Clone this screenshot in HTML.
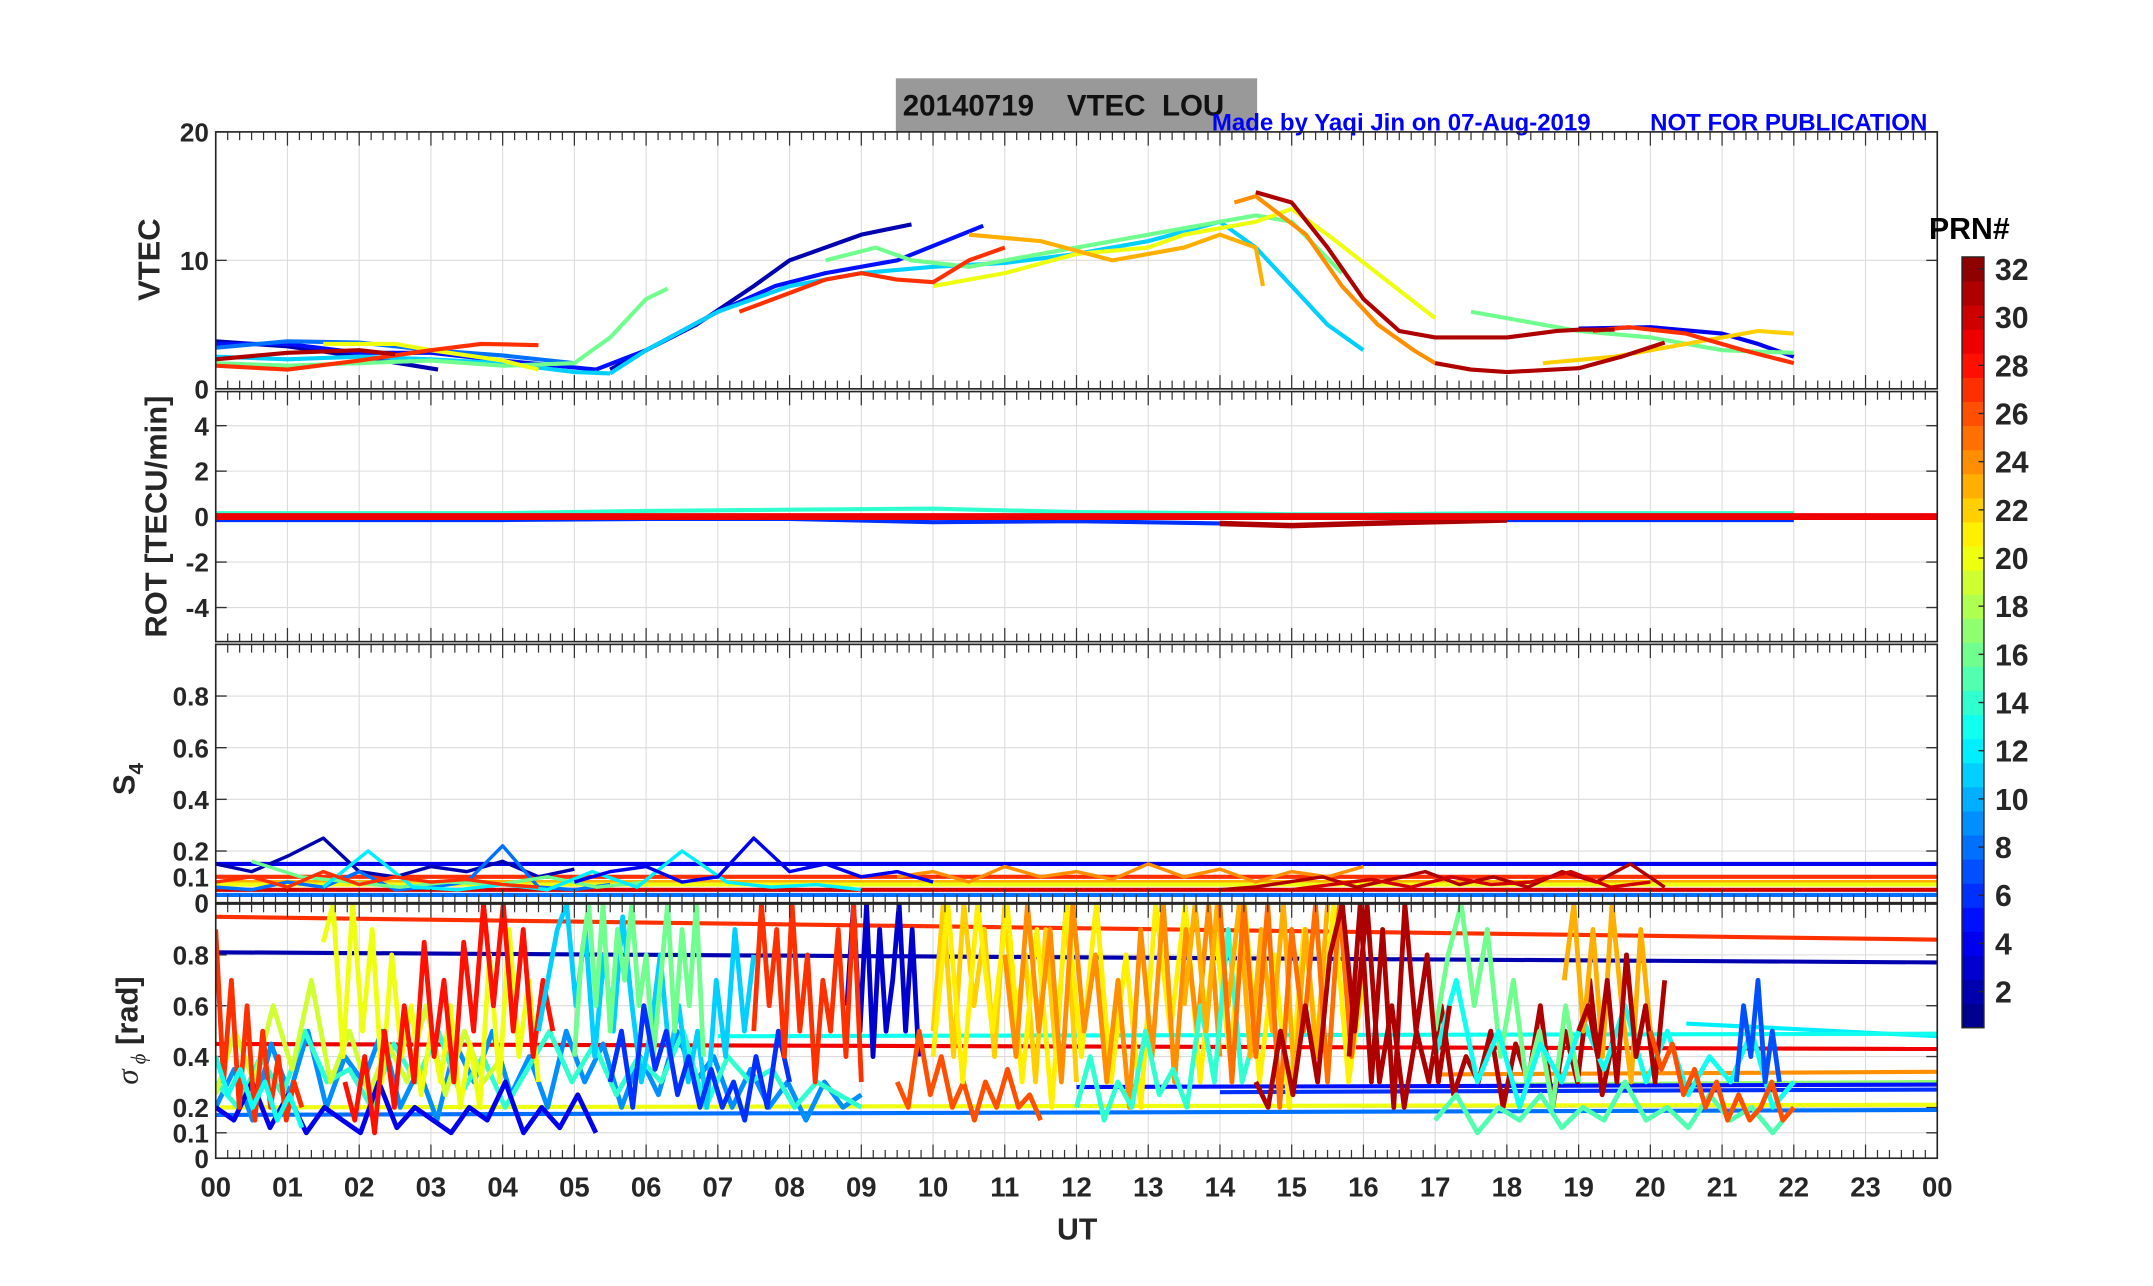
<!DOCTYPE html>
<html><head><meta charset="utf-8"><style>
html,body{margin:0;padding:0;background:#fff;}
svg{display:block;font-family:"Liberation Sans",Arial,sans-serif;font-weight:bold;}
</style></head><body>
<svg id="fig" width="2153" height="1286" viewBox="0 0 1567 936" xmlns="http://www.w3.org/2000/svg">
<rect x="652" y="57" width="263" height="39" fill="#999"/>
<text x="657" y="84" font-size="21.5" fill="#111" xml:space="preserve">20140719    VTEC  LOU</text>
<text x="882" y="95" font-size="17.5" fill="#0000ff">Made by Yaqi Jin on 07-Aug-2019</text>
<text x="1201" y="95" font-size="17.5" fill="#0000ff">NOT FOR PUBLICATION</text>
<g id="plots"></g>
</svg>
<script>
// ---------- data ----------
const hourTicks = ["00","01","02","03","04","05","06","07","08","09","10","11","12","13","14","15","16","17","18","19","20","21","22","23","00"];
const colorbarTicks = [2,4,6,8,10,12,14,16,18,20,22,24,26,28,30,32];
const vtecTicks = [0,10,20];
const rotTicks = [-4,-2,0,2,4];
const s4Ticks = [0,0.1,0.2,0.4,0.6,0.8];
const sigTicks = [0,0.1,0.2,0.4,0.6,0.8];

// VTEC traces: prn, times, values
const vtecPrn = [2,2,5,5,4,8,8,11,11,16,16,16,20,20,23,24,22,27,27,27,31,31,31];
const vtecT = [
 [0,1,2,3.1],[5.5,6,6.7,7.5,8,9,9.7],
 [0,1,2,3,4,5.3],[5.3,6,7,7.8,8.5,9.5,10.7],
 [19,20,21,21.5,22],
 [0,1,2],[2,3,4,5],
 [0,1,2,3,4,5,5.5],[5.5,6,7,8,9,10,11,12,13,14,14.5,15,15.5,16],
 [0,1,2,3,4,5,5.5,6,6.3],[8.5,9.2,9.7,10.5,11,12,13,14,14.5,15,15.7],[17.5,18.5,19,20,21,22],
 [1.5,2.5,3,4,4.5],[10,11,12,13,13.5,14.5,15,15.5,17],
 [10.5,11.5,12.5,13.5,14,14.5,14.6],[14.2,14.5,15.2,15.7,16.2,16.7,17,17.5],[18.5,19.5,20.5,21.5,22],
 [0,1,2,3,3.7,4.5],[7.3,8.5,9,9.5,10,10.5,11],[19.2,19.7,20.5,21.3,22],
 [0,1,2,2.5],[14.5,15,15.5,16,16.5,17,18,18.7,19,19.5],[17,17.5,18,19,19.6,20.2]
];
const vtecV = [
 [3.7,3.3,2.5,1.5],[1.5,3,5,8,10,12,12.8],
 [3.5,3.5,2.8,2.8,2.2,1.5],[1.5,3,6,8,9,10,12.7],
 [4.7,4.8,4.3,3.5,2.5],
 [3.2,3.7,3.6],[3.6,3,2.6,2],
 [2.5,2.3,2.5,2.3,2,1.3,1.2],[1.2,3,6,8,9,9.5,9.8,10.5,11.5,13,11,8,5,3],
 [2,1.8,2,2.2,1.8,2,4,7,7.8],[10,11,10,9.5,10,11,12,13,13.5,13,9],[6,5,4.5,4,3,2.8],
 [3.5,3.5,3,2.2,1.5],[8,9,10.5,11,12,13,14,12,5.5],
 [12,11.5,10,11,12,11,8],[14.5,15,12,8,5,3,2,1.5],[2,2.5,3.5,4.5,4.3],
 [1.8,1.5,2.2,3,3.5,3.4],[6,8.5,9,8.5,8.3,10,11],[4.5,4.8,4.3,3,2],
 [2.3,2.8,3,2.7],[15.3,14.5,11,7,4.5,4,4,4.5,4.6,4.6],[2,1.5,1.3,1.6,2.5,3.6]
];

// ROT noise band values per hour (approx. max excursion)
const rotHours = [0,2,4,6,8,10,12,14,15,16,18,20,22];
const rotUpper = [0.15,0.15,0.15,0.25,0.3,0.35,0.2,0.15,0.1,0.1,0.15,0.15,0.15];
const rotLower = [-0.15,-0.15,-0.15,-0.1,-0.1,-0.25,-0.2,-0.3,-0.4,-0.3,-0.15,-0.15,-0.15];

// S4 horizontal baselines
const s4LinePrn = [4,27,23,30,8,20];
const s4LineVal = [0.15,0.1,0.08,0.05,0.03,0.07];
// S4 spiky traces
const s4Prn = [2,8,16,12,27,24,31,4,30];
const s4Start = [0,0,0.5,1.5,0,9.5,14,5,15];
const s4End = [5,5.5,6,9,4.5,16,20.2,10,20];
const s4V = [
 [0.15,0.12,0.18,0.25,0.12,0.1,0.14,0.12,0.16,0.1,0.13],
 [0.06,0.05,0.08,0.06,0.12,0.05,0.06,0.08,0.22,0.06,0.05,0.07],
 [0.16,0.1,0.08,0.06,0.08,0.07,0.1,0.06,0.08],
 [0.06,0.2,0.06,0.05,0.07,0.05,0.12,0.06,0.2,0.08,0.06,0.07,0.05],
 [0.08,0.1,0.06,0.12,0.07,0.1,0.08,0.09,0.07,0.06],
 [0.1,0.12,0.08,0.14,0.1,0.12,0.09,0.15,0.1,0.13,0.08,0.12,0.1,0.14],
 [0.05,0.06,0.08,0.1,0.06,0.09,0.12,0.07,0.1,0.06,0.12,0.08,0.15,0.06],
 [0.08,0.12,0.14,0.08,0.1,0.25,0.12,0.15,0.1,0.12,0.08],
 [0.05,0.07,0.09,0.06,0.1,0.07,0.08,0.12,0.06,0.08]
];

// sigma-phi horizontal lines: prn, t0, v0, t1, v1
const sigLinePrn = [27,2,29,12,13,20,24,8,17,5,6];
const sigLineT0 = [0,0,0,20.5,7,0,17,0,18,12,14];
const sigLineV0 = [0.95,0.81,0.45,0.53,0.48,0.2,0.33,0.17,0.29,0.28,0.26];
const sigLineT1 = [24,24,24,24,24,24,24,24,24,24,24];
const sigLineV1 = [0.86,0.77,0.43,0.48,0.49,0.21,0.34,0.19,0.3,0.29,0.27];
// sigma-phi noisy traces
const sigPrn = [9,14,19,4,27,20,28,11,16,6,3,27,26,22,21,24,14,23,25,31,16,13,15,23,31,26,7,13,31];
const sigStart = [0,0,0,0,0,1.5,1.8,4.5,5,5.5,8.8,7.5,9.5,10,10,11,12,13.5,14,14.5,17,17,17,18.8,19,20,21.2,0,15.8];
const sigEnd = [9,9,4,5.3,1.2,4.5,4.7,7.5,6.8,8,9.8,9,11.5,12,16,14,14.5,15.5,16,19.5,19,22,22,20,20.2,22,21.8,1.2,17.2];
const sigV = [
 [0.2,0.35,0.15,0.45,0.25,0.5,0.2,0.4,0.3,0.5,0.2,0.35,0.15,0.45,0.3,0.5,0.25,0.4,0.2,0.5,0.3,0.45,0.2,0.4,0.25,0.5,0.3,0.4,0.2,0.35,0.2,0.3,0.15,0.3,0.2,0.25],
 [0.3,0.2,0.4,0.25,0.5,0.3,0.35,0.2,0.45,0.3,0.5,0.25,0.4,0.2,0.35,0.5,0.3,0.45,0.25,0.4,0.3,0.5,0.2,0.4,0.3,0.35,0.2,0.3,0.25,0.2],
 [0.25,0.5,0.3,0.6,0.35,0.7,0.3,0.5,0.25,0.45,0.3,0.6,0.25,0.5,0.3,0.4],
 [0.2,0.15,0.3,0.12,0.25,0.1,0.2,0.15,0.1,0.3,0.12,0.2,0.15,0.1,0.2,0.15,0.3,0.1,0.2,0.12,0.25,0.1],
 [0.9,0.3,0.7,0.2,0.6,0.15,0.5,0.2,0.4,0.15,0.3,0.2],
 [0.85,1,0.4,1,0.5,0.9,0.3,0.8,0.4,0.6,0.25,0.5,0.3,0.6,0.2,0.45,0.2,0.8,0.3,0.9,0.4,0.7,0.3],
 [0.3,0.15,0.4,0.1,0.5,0.2,0.6,0.3,0.85,0.4,0.7,0.3,0.85,0.5,1,0.6,1,0.5,0.9,0.4,0.7,0.5],
 [0.5,0.7,0.9,1,0.6,0.9,0.4,0.8,0.5,0.95,0.6,0.3,0.5,0.8,0.4,0.6,0.3,0.5,0.2,0.7,0.4,0.9,0.5,0.8],
 [0.4,0.8,1,0.6,1,0.5,0.9,0.7,1,0.6,0.8,0.4,0.7,1,0.5,0.9,0.6,1,0.4],
 [0.3,0.5,0.2,0.6,0.35,0.5,0.25,0.4,0.2,0.35,0.2,0.3,0.15,0.4,0.2,0.5,0.3],
 [0.6,1,0.5,1,0.4,0.9,0.5,0.7,1,0.5,0.9,0.4],
 [0.5,1,0.6,0.9,0.4,1,0.5,0.8,0.3,0.7,0.5,0.9,0.4,1,0.3],
 [0.3,0.2,0.5,0.25,0.4,0.2,0.3,0.15,0.3,0.2,0.35,0.2,0.25,0.15],
 [0.5,1,0.4,1,0.6,0.9,0.4,1,0.5,0.8,0.3,0.9,0.4,1,0.3],
 [0.4,1,0.3,1,0.5,1,0.3,0.9,0.2,1,0.4,1,0.3,0.8,0.2,1,0.5,1,0.3,0.9,0.4,1,0.3,0.8,0.2,0.9,0.4,1,0.3,0.7],
 [0.8,0.4,1,0.5,0.9,0.3,1,0.5,0.8,0.3,0.7,0.2,0.9,0.4,1,0.3,0.9,0.5,1,0.4],
 [0.2,0.4,0.15,0.3,0.2,0.5,0.25,0.35,0.2,0.6,0.3,0.9,0.3,0.5],
 [0.6,1,0.5,1,0.6,1,0.4,0.9,0.5,1,0.3,0.9,0.4,1],
 [1,0.3,1,0.4,1,0.2,0.9,0.5,1,0.3,1,0.4,0.8],
 [0.3,0.2,0.5,0.25,0.6,0.3,0.8,1,0.5,1,0.3,0.6,0.2,0.5,0.3,0.6,0.25,0.4,0.3,0.5,0.2,0.45,0.3,0.6,0.2,0.5,0.3,0.7,0.25,0.5],
 [0.5,0.8,1,0.6,0.9,0.4,0.7,0.3,0.5,0.2,0.6,0.3],
 [0.4,0.7,0.3,0.5,0.2,0.45,0.3,0.55,0.35,0.6,0.3,0.5,0.25,0.4,0.3,0.5,0.2,0.3],
 [0.15,0.25,0.1,0.2,0.15,0.25,0.12,0.2,0.15,0.3,0.15,0.2,0.12,0.25,0.15,0.2,0.1,0.2],
 [0.7,1,0.5,0.9,0.4,1,0.6,0.3,0.9,0.5],
 [0.5,0.6,0.4,0.7,0.3,0.8,0.4,0.6,0.3,0.7],
 [0.5,0.35,0.45,0.25,0.35,0.2,0.3,0.15,0.25,0.15,0.2,0.3,0.15,0.2],
 [0.3,0.6,0.4,0.7,0.3,0.5,0.3],
 [0.4,0.25,0.35,0.2,0.3,0.15,0.25,0.12],
 [0.4,1,0.3,0.9,0.2,1,0.5,0.8,0.3,0.6]
];

// ---------- layout ----------
const NS = "http://www.w3.org/2000/svg";
const X0 = 157, X1 = 1410;
const xs = t => X0 + t * (X1 - X0) / 24;
const panels = [
 {name:"vtec", top:96, bot:283, min:0, max:20, ticks:vtecTicks},
 {name:"rot", top:285, bot:467, min:-5.5, max:5.5, ticks:rotTicks},
 {name:"s4", top:469, bot:657, min:0, max:1, ticks:s4Ticks},
 {name:"sigma", top:658, bot:843, min:0, max:1, ticks:sigTicks}
];
function ys(p, v){ return p.bot - (v - p.min) * (p.bot - p.top) / (p.max - p.min); }
function jet(prn){
 const f = (prn - 0.5) / 32;
 const c = x => Math.round(255 * Math.max(0, Math.min(1, x)));
 const r = c(1.5 - Math.abs(4*f - 3)), g = c(1.5 - Math.abs(4*f - 2)), b = c(1.5 - Math.abs(4*f - 1));
 return `rgb(${r},${g},${b})`;
}
const root = document.getElementById("plots");
function mk(tag, attrs, parent){ const e = document.createElementNS(NS, tag); for (const k in attrs) e.setAttribute(k, attrs[k]); (parent||root).appendChild(e); return e; }

panels.forEach(p => {
 const g = mk("g", {});
 
 
 p.g = g;
 const clip = mk("clipPath", {id:"clip-"+p.name}, g);
 mk("rect", {x:X0, y:p.top, width:X1-X0, height:p.bot-p.top}, clip);
 for (let h = 1; h < 24; h++) {
  const l = mk("line", {x1:xs(h), x2:xs(h), y1:p.top, y2:p.bot, stroke:"#dcdcdc", "stroke-width":0.8}, g);
  
  
 }
 p.ticks.forEach(v => {
  const y = ys(p, v);
  const l = mk("line", {x1:X0, x2:X1, y1:y, y2:y, stroke:"#dcdcdc", "stroke-width":0.8}, g);
  
  
  mk("line", {x1:X0, x2:X0+8, y1:y, y2:y, stroke:"#333", "stroke-width":1}, g);
  mk("line", {x1:X1, x2:X1-8, y1:y, y2:y, stroke:"#333", "stroke-width":1}, g);
  const t = mk("text", {x:X0-5, y:y+7, "font-size":19, "text-anchor":"end", fill:"#262626"}, g);
  t.textContent = String(v);
  
  
 });
 p.data = mk("g", {"clip-path":"url(#clip-"+p.name+")", "stroke-linejoin":"round", fill:"none"}, g);
});

function poly(p, ts, vs, color, w, name){
 const pts = ts.map((t,i) => xs(t).toFixed(1) + "," + ys(p, vs[i]).toFixed(1)).join(" ");
 const e = mk("polyline", {points:pts, stroke:color, "stroke-width":w, fill:"none"}, p.data);
 
 
 return e;
}
function spread(a, b, n){ const r = []; for (let i=0;i<n;i++) r.push(n===1?a:a+(b-a)*i/(n-1)); return r; }

// VTEC
vtecPrn.forEach((prn,i) => poly(panels[0], vtecT[i], vtecV[i], jet(prn), 3, 'vtec-prn'+prn));
// ROT
poly(panels[1], rotHours, rotUpper, jet(14), 3, 'rot-upper-band');
poly(panels[1], rotHours, rotLower, jet(6), 3, 'rot-lower-band');
poly(panels[1], rotHours.filter(h=>h>=14&&h<=18), rotLower.filter((v,i)=>rotHours[i]>=14&&rotHours[i]<=18), jet(31), 4, 'rot-prn31');
poly(panels[1], [0,24], [0,0], jet(29), 5, 'rot-zero-band');
// S4
s4LinePrn.forEach((prn,i) => poly(panels[2], [0,24], [s4LineVal[i], s4LineVal[i]], jet(prn), 3, 's4-line-prn'+prn));
s4Prn.forEach((prn,i) => poly(panels[2], spread(s4Start[i], s4End[i], s4V[i].length), s4V[i], jet(prn), 2.5, 's4-prn'+prn));
// sigma phi
sigLinePrn.forEach((prn,i) => poly(panels[3], [sigLineT0[i], sigLineT1[i]], [sigLineV0[i], sigLineV1[i]], jet(prn), 3, 'sigma-line-prn'+prn));
sigPrn.forEach((prn,i) => poly(panels[3], spread(sigStart[i], sigEnd[i], sigV[i].length), sigV[i], jet(prn), 3.5, 'sigma-prn'+prn));

// frames and x ticks
panels.forEach(p => {
 for (let m = 0; m <= 24*6; m++) {
  const x = xs(m/6), big = m % 6 === 0 ? 10 : 6;
  mk("line", {x1:x, x2:x, y1:p.top, y2:p.top+big, stroke:"#333", "stroke-width":0.9}, p.g);
  mk("line", {x1:x, x2:x, y1:p.bot, y2:p.bot-big, stroke:"#333", "stroke-width":0.9}, p.g);
 }
 const f = mk("rect", {x:X0, y:p.top, width:X1-X0, height:p.bot-p.top, fill:"none", stroke:"#262626", "stroke-width":1.2}, p.g);
 
 
});
hourTicks.forEach((s,i) => {
 const t = mk("text", {x:xs(i), y:871, "font-size":20, "text-anchor":"middle", fill:"#262626"});
 t.textContent = s;
 
 
});
const ut = mk("text", {x:784, y:902, "font-size":22, "text-anchor":"middle", fill:"#262626"});
ut.textContent = "UT";



function ylab(txt, cx, cy, name){
 const t = mk("text", {x:0, y:0, "font-size":22.5, "text-anchor":"middle", fill:"#262626", transform:`translate(${cx},${cy}) rotate(-90)`});
 t.textContent = txt;
 
 
 return t;
}
ylab("VTEC", 116, 189, 'vtec-axis-title');
ylab("ROT [TECU/min]", 121, 376, 'rot-axis-title');
const s4l = ylab("S", 98, 567, 's4-axis-title');
const sub = document.createElementNS(NS, "tspan"); sub.setAttribute("font-size", 15); sub.setAttribute("dy", 6); sub.textContent = "4"; s4l.appendChild(sub);
const sg = mk("text", {x:0, y:0, "font-size":22.5, "text-anchor":"middle", fill:"#262626", transform:"translate(100,750) rotate(-90)"});


sg.innerHTML = '<tspan font-family="Liberation Serif" font-style="italic" font-weight="normal">σ</tspan><tspan font-size="15" dy="6" font-family="Liberation Serif" font-style="italic" font-weight="normal"> ϕ</tspan><tspan dy="-6"> [rad]</tspan>';

// colorbar
const CB = {x:1428, w:16, top:187, bot:748};
const cbg = mk("g", {});


const bandH = (CB.bot - CB.top) / 32;
for (let k = 1; k <= 32; k++) {
 mk("rect", {x:CB.x, y:CB.bot - k*bandH, width:CB.w, height:bandH+0.4, fill:jet(k)}, cbg);
}
mk("rect", {x:CB.x, y:CB.top, width:CB.w, height:CB.bot-CB.top, fill:"none", stroke:"#262626", "stroke-width":1}, cbg);
colorbarTicks.forEach(v => {
 const y = CB.bot - (v - 0.5) * bandH;
 mk("line", {x1:CB.x+CB.w-4, x2:CB.x+CB.w, y1:y, y2:y, stroke:"#262626"}, cbg);
 const t = mk("text", {x:1452, y:y+8, "font-size":22, fill:"#262626"}, cbg);
 t.textContent = String(v);
 
 
});
const prn = mk("text", {x:1404, y:174, "font-size":22, fill:"#000"});
prn.textContent = "PRN#";


</script>
</body></html>
